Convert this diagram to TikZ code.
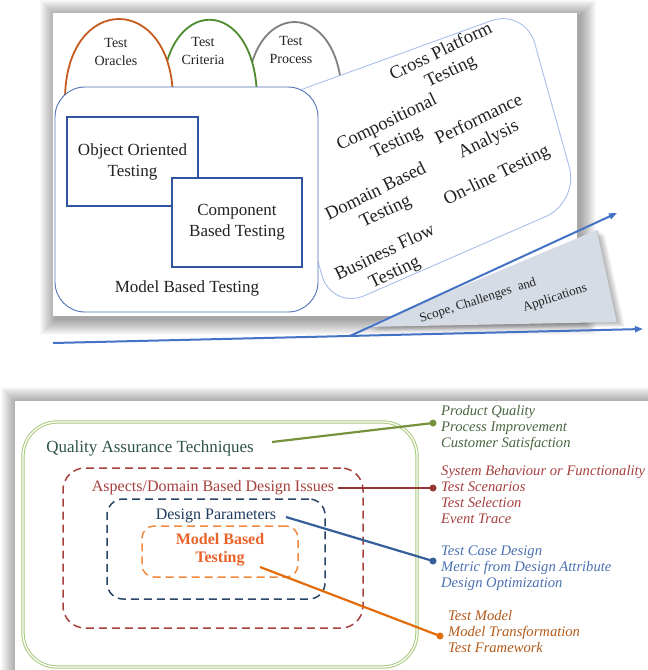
\documentclass[tikz,border=0pt]{standalone}
\usepackage{fontspec}
\setmainfont{Liberation Serif}
\usetikzlibrary{arrows.meta}
\definecolor{arcOr}{HTML}{C65A1E}
\definecolor{arcGr}{HTML}{4E8B2E}
\definecolor{arcGy}{HTML}{7F7F7F}
\definecolor{mbtBlue}{HTML}{4F72B8}
\definecolor{boxBlue}{HTML}{2F55A0}
\definecolor{rotBlue}{HTML}{A8C0E8}
\definecolor{arrowBlue}{HTML}{4472C4}
\definecolor{triFill}{HTML}{D6DCE5}
\definecolor{qaGreen}{HTML}{A9CB7C}
\definecolor{qaText}{HTML}{2F5448}
\definecolor{gLine}{HTML}{76923C}
\definecolor{gText}{HTML}{4A6741}
\definecolor{rText}{HTML}{A5403D}
\definecolor{rLine}{HTML}{963634}
\definecolor{nDash}{HTML}{2A4468}
\definecolor{nText}{HTML}{1F3A5F}
\definecolor{bLine}{HTML}{365F99}
\definecolor{bText}{HTML}{4A70B0}
\definecolor{oDash}{HTML}{F08A3C}
\definecolor{oBold}{HTML}{E8622A}
\definecolor{oLine}{HTML}{E36C0A}
\definecolor{oText}{HTML}{B35A1A}
\definecolor{ink}{HTML}{222222}
\begin{document}
\begin{tikzpicture}[x=1pt,y=-1pt,
  archtext/.style={text=ink,align=center,inner sep=0pt,font=\fontsize{14}{18}\selectfont},
  bigtext/.style={text=ink,align=center,inner sep=0pt,font=\fontsize{17}{21}\selectfont},
  rottext/.style={text=ink,align=center,inner sep=0pt,rotate=26,font=\fontsize{18.5}{22}\selectfont},
  sqbox/.style={draw=boxBlue,line width=2.4pt,fill=white,inner sep=0pt},
  arrowline/.style={arrowBlue,line width=2pt,-{Triangle[length=8pt,width=6pt]}},
  dashbox/.style={line width=1.5pt,dash pattern=on 8pt off 5pt,inner sep=0pt},
  conn/.style={line width=2.2pt},
  enddot/.style={circle,fill,inner sep=0pt,minimum size=7pt},
  itlist/.style={align=left,inner sep=0pt,anchor=west,font=\fontsize{14.6}{16}\selectfont\itshape}]
\useasboundingbox (0,0) rectangle (648,670);
\clip (0,0) rectangle (648,670);
\fill[white] (0,0) rectangle (648,670);

% ---------- top card ----------
\foreach \i in {1,...,16}
  \fill[black,opacity=0.024] (56-\i,16-\i) rectangle (580+\i,319+\i);
\fill[white] (53,13) rectangle (577,316);

% arches (back to front)
\draw[arcGy,line width=1.8pt,fill=white] (247,100) .. controls (247,-4) and (342,-4) .. (342,100);
\draw[arcGr,line width=1.8pt,fill=white] (162,100) .. controls (162,-7) and (257,-7) .. (257,100);
\draw[arcOr,line width=1.8pt,fill=white] (65,100) .. controls (65,-8) and (173,-8) .. (173,100);
\node[archtext] (to) at (116,52) {Test\\Oracles};
\node[archtext] (tc) at (203,51) {Test\\Criteria};
\node[archtext] (tp) at (291,50) {Test\\Process};

% rotated application box
\draw[rotBlue,line width=0.9pt,fill=white,rounded corners=36pt]
  (272.8,99.9) -- (525,8.5) -- (579,202) -- (331.6,310) -- cycle;
\node[rottext] (cpt) at (446,62) {Cross Platform\\Testing};
\node[rottext] (cmt) at (392,133) {Compositional\\Testing};
\node[rottext] (pfa) at (484,130) {Performance\\Analysis};
\node[rottext] (dbt) at (381,202) {Domain Based\\Testing};
\node[rottext] (olt) at (497,176) {On-line Testing};
\node[rottext] (bft) at (390,263) {Business Flow\\Testing};

% model based testing box
\node[draw=mbtBlue,line width=0.9pt,fill=white,rounded corners=30pt,
      minimum width=263pt,minimum height=225pt,inner sep=0pt] (mbt) at (186.5,199.5) {};
\node[sqbox,minimum width=131pt,minimum height=89pt] (oot) at (132.5,161.5) {};
\node[bigtext] at (oot.center) {Object Oriented\\Testing};
\node[sqbox,minimum width=130pt,minimum height=89pt] (cbt) at (237,222.5) {};
\node[bigtext] at (cbt.center) {Component\\Based Testing};
\node[bigtext] (mbtl) at (187,288) {Model Based Testing};

% triangle with shadow
\foreach \i in {1,...,8}
  \fill[black,opacity=0.035] (597+\i,230+0.6*\i) -- (617+\i,322+0.6*\i) -- (365+\i,327+0.6*\i) -- cycle;
\fill[triFill] (597,230) -- (617,322) -- (365,327) -- cycle;
\draw[gray!60,line width=0.4pt] (597,230) -- (617,322);
\node[text=ink,inner sep=0pt,rotate=18,font=\fontsize{13}{15}\selectfont] (sc1) at (478,301) {Scope, Challenges\hspace{7pt}and};
\node[text=ink,inner sep=0pt,rotate=18,font=\fontsize{13}{15}\selectfont] (sc2) at (555,298) {Applications};

% arrows
\coordinate (hs) at (53,343);
\coordinate (he) at (643,329);
\coordinate (ds) at (350,336);
\coordinate (de) at (617,213);
\draw[arrowline] (hs) -- (he);
\draw[arrowline] (ds) -- (de);

% ---------- bottom card ----------
\foreach \i in {1,...,16}
  \fill[black,opacity=0.024] (17-\i,403-\i) rectangle (700,700);
\fill[white] (15,401) rectangle (700,700);

\node[draw=qaGreen,double=white,double distance=1.3pt,line width=1pt,rounded corners=34pt,
      minimum width=394pt,minimum height=245pt,inner sep=0pt] (qa) at (220,544.5) {};
\node[dashbox,draw=rText,rounded corners=22pt,minimum width=300pt,minimum height=160pt] (ad) at (213,548) {};
\node[dashbox,draw=nDash,rounded corners=16pt,minimum width=218pt,minimum height=100pt] (dp) at (216,549) {};
\node[dashbox,draw=oDash,rounded corners=12pt,minimum width=156pt,minimum height=51pt] (mb) at (220,551.5) {};

\node[text=qaText,inner sep=0pt,font=\fontsize{17}{21}\selectfont] (qal) at (150,448) {Quality Assurance Techniques};
\node[text=rText,inner sep=0pt,font=\fontsize{16}{19}\selectfont] (adl) at (213,488) {Aspects/Domain Based Design Issues};
\node[text=nText,inner sep=0pt,font=\fontsize{16}{19}\selectfont] (dpl) at (216,516) {Design Parameters};
\node[text=oBold,inner sep=0pt,align=center,font=\fontsize{16}{18}\selectfont\bfseries] (mbl) at (220,550) {Model Based\\Testing};

% connectors
\coordinate (gs) at (272,442);
\coordinate (rs) at (338,488);
\coordinate (bs) at (286,517);
\coordinate (os) at (260,567);
\node[enddot,fill=gLine] (gd) at (433,423) {};
\node[enddot,fill=rLine] (rd) at (433,488) {};
\node[enddot,fill=bLine] (bd) at (433,561) {};
\node[enddot,fill=oLine] (od) at (440,636) {};
\draw[conn,gLine] (gs) -- (gd.center);
\draw[conn,rLine] (rs) -- (rd.center);
\draw[conn,bLine] (bs) -- (bd.center);
\draw[conn,oLine] (os) -- (od.center);

\node[itlist,text=gText] (gl) at (441,428) {Product Quality\\Process Improvement\\Customer Satisfaction};
\node[itlist,text=rText] (rl) at (441,495) {System Behaviour or Functionality\\Test Scenarios\\Test Selection\\Event Trace};
\node[itlist,text=bText] (bl) at (441,568) {Test Case Design\\Metric from Design Attribute\\Design Optimization};
\node[itlist,text=oText] (ol) at (448,632) {Test Model\\Model Transformation\\Test Framework};
\end{tikzpicture}
\end{document}
